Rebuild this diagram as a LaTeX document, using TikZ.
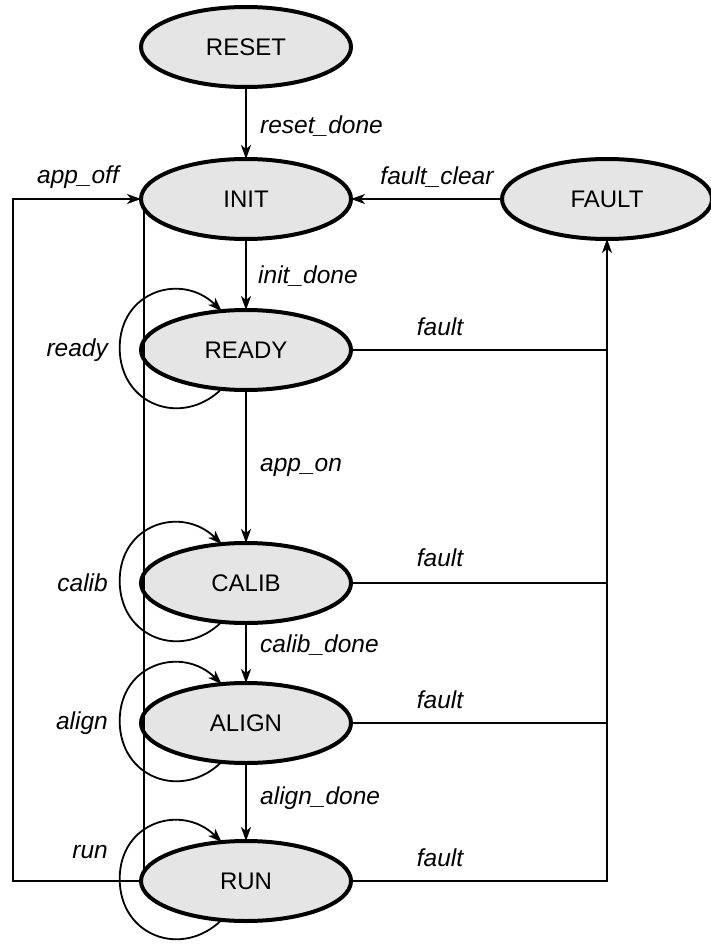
\documentclass[tikz,border=0pt]{standalone}
\usepackage{fontspec}
\setmainfont{Liberation Sans}
\usetikzlibrary{arrows.meta,shapes.geometric}

\begin{document}
\begin{tikzpicture}[x=1pt, y=-1pt,
  state/.style={ellipse, draw, line width=4pt, fill=gray!20, minimum width=210pt, minimum height=80pt, inner sep=0pt, outer sep=0pt, font=\fontsize{24}{28}\selectfont},
  wire/.style={line width=1.8pt},
  edge/.style={wire, -{Stealth[length=14pt, width=10pt, inset=4pt]}},
  lbl/.style={inner sep=0pt, font=\fontsize{24.5}{28}\selectfont\itshape}]
\useasboundingbox (0,0) rectangle (711,947);

\node[state] (reset) at (246,47) {RESET};
\node[state] (init) at (246,199) {INIT};
\node[state] (fault) at (607,199) {FAULT};
\node[state] (ready) at (246,350) {READY};
\node[state] (calib) at (246,583) {CALIB};
\node[state] (align) at (246,723) {ALIGN};
\node[state] (run) at (246,881) {RUN};

\draw[edge] (reset) -- (init);
\draw[edge] (init) -- (ready);
\draw[edge] (ready) -- (calib);
\draw[edge] (calib) -- (align);
\draw[edge] (align) -- (run);
\draw[edge] (fault) -- (init);

\draw[wire] (ready.east) -- (ready.east -| fault.south);
\draw[wire] (calib.east) -- (calib.east -| fault.south);
\draw[wire] (align.east) -- (align.east -| fault.south);
\draw[edge] (run.east) -| (fault.south);

\coordinate (offcorner) at (13,881);
\draw[edge] (run.west) -- (offcorner) |- (init.west);
\draw[wire] (init.185) -- (run.175);

\draw[edge] (ready.238) .. controls +(-40,39) and +(0,57) .. ++(-102,-41) .. controls +(0,-57) and +(-40,-39) .. (ready.122);
\draw[edge] (calib.238) .. controls +(-40,39) and +(0,57) .. ++(-102,-41) .. controls +(0,-57) and +(-40,-39) .. (calib.122);
\draw[edge] (align.238) .. controls +(-40,39) and +(0,57) .. ++(-102,-41) .. controls +(0,-57) and +(-40,-39) .. (align.122);
\draw[edge] (run.238) .. controls +(-40,39) and +(0,57) .. ++(-102,-41) .. controls +(0,-57) and +(-40,-39) .. (run.122);

\node[lbl, anchor=west] (lreset) at (260,126) {reset\_done};
\node[lbl, anchor=west] (linit) at (258,276) {init\_done};
\node[lbl, anchor=west] (lappon) at (260,467) {app\_on};
\node[lbl, anchor=west] (lcalibd) at (260,645) {calib\_done};
\node[lbl, anchor=west] (lalignd) at (260,798) {align\_done};
\node[lbl] (lclear) at (437,177) {fault\_clear};
\node[lbl] (lappoff) at (78,177) {app\_off};
\node[lbl] (lf1) at (440,327) {fault};
\node[lbl] (lf2) at (440,558) {fault};
\node[lbl] (lf3) at (440,700) {fault};
\node[lbl] (lf4) at (440,858) {fault};
\node[lbl, anchor=east] (lready) at (108,350) {ready};
\node[lbl, anchor=east] (lcalib) at (108,583) {calib};
\node[lbl, anchor=east] (lalign) at (108,723) {align};
\node[lbl, anchor=east] (lrun) at (108,852) {run};
\end{tikzpicture}
\end{document}
